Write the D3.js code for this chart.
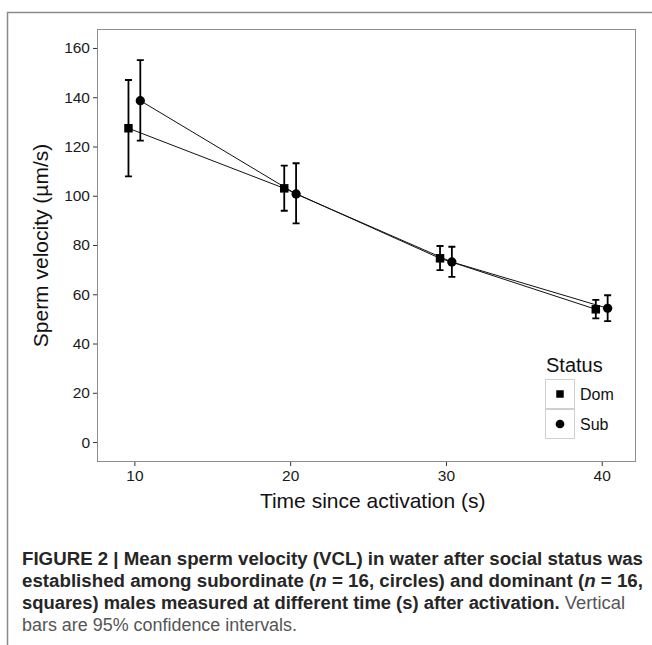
<!DOCTYPE html>
<html>
<head>
<meta charset="utf-8">
<script src="https://cdn.jsdelivr.net/npm/d3@7"></script>
<style>
  html, body { margin: 0; padding: 0; background: #fff; }
  svg { display: block; font-family: "Liberation Sans", Arial, sans-serif; }
</style>
</head>
<body>
<div id="chart"></div>
<script>
// data
const times = [10, 20, 30, 40];
const statuses = ['Dom', 'Sub'];
const domMean = [127.4, 103.0, 74.6, 53.9];
const domLow = [107.9, 93.9, 69.8, 50.2];
const domHigh = [147.0, 112.2, 79.6, 57.7];
const subMean = [138.6, 100.7, 73.1, 54.3];
const subLow = [122.4, 88.8, 67.1, 49.1];
const subHigh = [155.1, 113.2, 79.3, 59.6];
const yTicks = [0, 20, 40, 60, 80, 100, 120, 140, 160];
const xTicks = [10, 20, 30, 40];

const W = 652, H = 645;
const panel = { left: 97, right: 636, top: 29, bottom: 462 };
const dodge = { Dom: -0.38, Sub: 0.38 };

const series = [
	{ status: 'Dom', mean: domMean, low: domLow, high: domHigh },
	{ status: 'Sub', mean: subMean, low: subLow, high: subHigh },
].map((s) => ({
	status: s.status,
	points: times.map((t, i) => ({ t: t + dodge[s.status], m: s.mean[i], lo: s.low[i], hi: s.high[i] })),
}));

var svg = d3.select('#chart').append('svg').attr('width', W).attr('height', H);

// outer figure frame (top and left edge visible)
svg.append('path')
	.attr('d', 'M7.5,' + H + 'V12.5H' + W)
	.attr('fill', 'none')
	.attr('stroke', '#8a8a8a')
	.attr('stroke-width', 1.5);

var x = d3.scaleLinear().domain([7.6, 42.2]).range([panel.left, panel.right]);
var y = d3.scaleLinear().domain([-8.1, 167.7]).range([panel.bottom, panel.top]);

// axes
var gx = svg.append('g')
	.attr('transform', 'translate(0,' + panel.bottom + ')')
	.call(d3.axisBottom(x).tickValues(xTicks).tickSize(4).tickSizeOuter(0).tickPadding(4));
var gy = svg.append('g')
	.attr('transform', 'translate(' + panel.left + ',0)')
	.call(d3.axisLeft(y).tickValues(yTicks).tickSize(4).tickSizeOuter(0).tickPadding(3));
[gx, gy].forEach((g) => {
	g.select('.domain').remove();
	g.selectAll('line').attr('stroke', '#333').attr('stroke-width', 1);
	g.selectAll('text').attr('fill', '#1a1a1a').style('font-size', '15.5px').style('font-family', '"Liberation Sans", Arial, sans-serif');
});

// panel border
svg.append('rect')
	.attr('x', panel.left + 0.5)
	.attr('y', panel.top + 0.5)
	.attr('width', panel.right - panel.left - 1)
	.attr('height', panel.bottom - panel.top - 1)
	.attr('fill', 'none')
	.attr('stroke', '#8c8c8c')
	.attr('stroke-width', 1);

// axis titles
svg.append('text')
	.attr('x', x(25.3))
	.attr('y', 508)
	.attr('text-anchor', 'middle')
	.attr('fill', '#111')
	.style('font-size', '21px')
	.text('Time since activation (s)');
svg.append('text')
	.attr('transform', 'translate(48,' + (panel.top + panel.bottom) / 2 + ')rotate(-90)')
	.attr('text-anchor', 'middle')
	.attr('fill', '#111')
	.style('font-size', '21px')
	.text('Sperm velocity (µm/s)');

// connecting lines
var line = d3.line().x((d) => x(d.t)).y((d) => y(d.m));
svg.selectAll('path.series')
	.data(series)
	.enter()
	.append('path')
	.attr('class', 'series')
	.attr('d', (d) => line(d.points))
	.attr('fill', 'none')
	.attr('stroke', '#111')
	.attr('stroke-width', 1);

// error bars
var all = series.flatMap((s) => s.points.map((p) => Object.assign({ status: s.status }, p)));
var capHalf = 3.5;
var eb = svg.append('g').attr('stroke', '#000').attr('stroke-width', 1.8).attr('fill', 'none');
eb.selectAll('path')
	.data(all)
	.enter()
	.append('path')
	.attr('d', (d) => {
		var cx = x(d.t), y1 = y(d.hi), y2 = y(d.lo);
		return 'M' + (cx - capHalf) + ',' + y1 + 'H' + (cx + capHalf) +
			'M' + cx + ',' + y1 + 'V' + y2 +
			'M' + (cx - capHalf) + ',' + y2 + 'H' + (cx + capHalf);
	});

// points
var symbolFor = { Dom: d3.symbol().type(d3.symbolSquare).size(72), Sub: d3.symbol().type(d3.symbolCircle).size(68) };
svg.selectAll('path.pt')
	.data(all)
	.enter()
	.append('path')
	.attr('class', 'pt')
	.attr('transform', (d) => 'translate(' + x(d.t) + ',' + y(d.m) + ')')
	.attr('d', (d) => symbolFor[d.status]())
	.attr('fill', '#000');

// legend
var leg = svg.append('g').attr('transform', 'translate(545,379)');
leg.append('text')
	.attr('x', 1)
	.attr('y', -7)
	.attr('fill', '#111')
	.style('font-size', '20px')
	.text('Status');
var keys = leg.selectAll('g.key')
	.data(statuses)
	.enter()
	.append('g')
	.attr('class', 'key')
	.attr('transform', (d, i) => 'translate(0,' + i * 30 + ')');
keys.append('rect')
	.attr('x', 0.5)
	.attr('y', 0.5)
	.attr('width', 29)
	.attr('height', 29)
	.attr('fill', '#fff')
	.attr('stroke', '#cfcfcf');
keys.append('path')
	.attr('transform', 'translate(15,15)')
	.attr('d', (d) => (d === 'Dom' ? d3.symbol().type(d3.symbolSquare).size(56)() : d3.symbol().type(d3.symbolCircle).size(60)()))
	.attr('fill', '#000');
keys.append('text')
	.attr('x', 35)
	.attr('y', 20.5)
	.attr('fill', '#111')
	.style('font-size', '16px')
	.text((d) => d);

// caption
var capLines = [
	{ y: 565, len: 621, parts: [['FIGURE 2 | Mean sperm velocity (VCL) in water after social status was', 'b']] },
	{ y: 587, len: 621, parts: [['established among subordinate (', 'b'], ['n', 'bi'], [' = 16, circles) and dominant (', 'b'], ['n', 'bi'], [' = 16,', 'b']] },
	{ y: 609, len: 603, parts: [['squares) males measured at different time (s) after activation.', 'b'], [' Vertical', 'r']] },
	{ y: 631, len: 275, parts: [['bars are 95% confidence intervals.', 'r']] },
];
var cap = svg.append('g').style('font-size', '17.5px');
capLines.forEach((l) => {
	var t = cap.append('text')
		.attr('x', 22)
		.attr('y', l.y)
		.attr('textLength', l.len)
		.attr('lengthAdjust', 'spacingAndGlyphs');
	l.parts.forEach((p) => {
		t.append('tspan')
			.attr('font-weight', p[1] === 'r' ? 'normal' : 'bold')
			.attr('font-style', p[1] === 'bi' ? 'italic' : 'normal')
			.attr('fill', p[1] === 'r' ? '#555' : '#262626')
			.text(p[0]);
	});
});
</script>
</body>
</html>
